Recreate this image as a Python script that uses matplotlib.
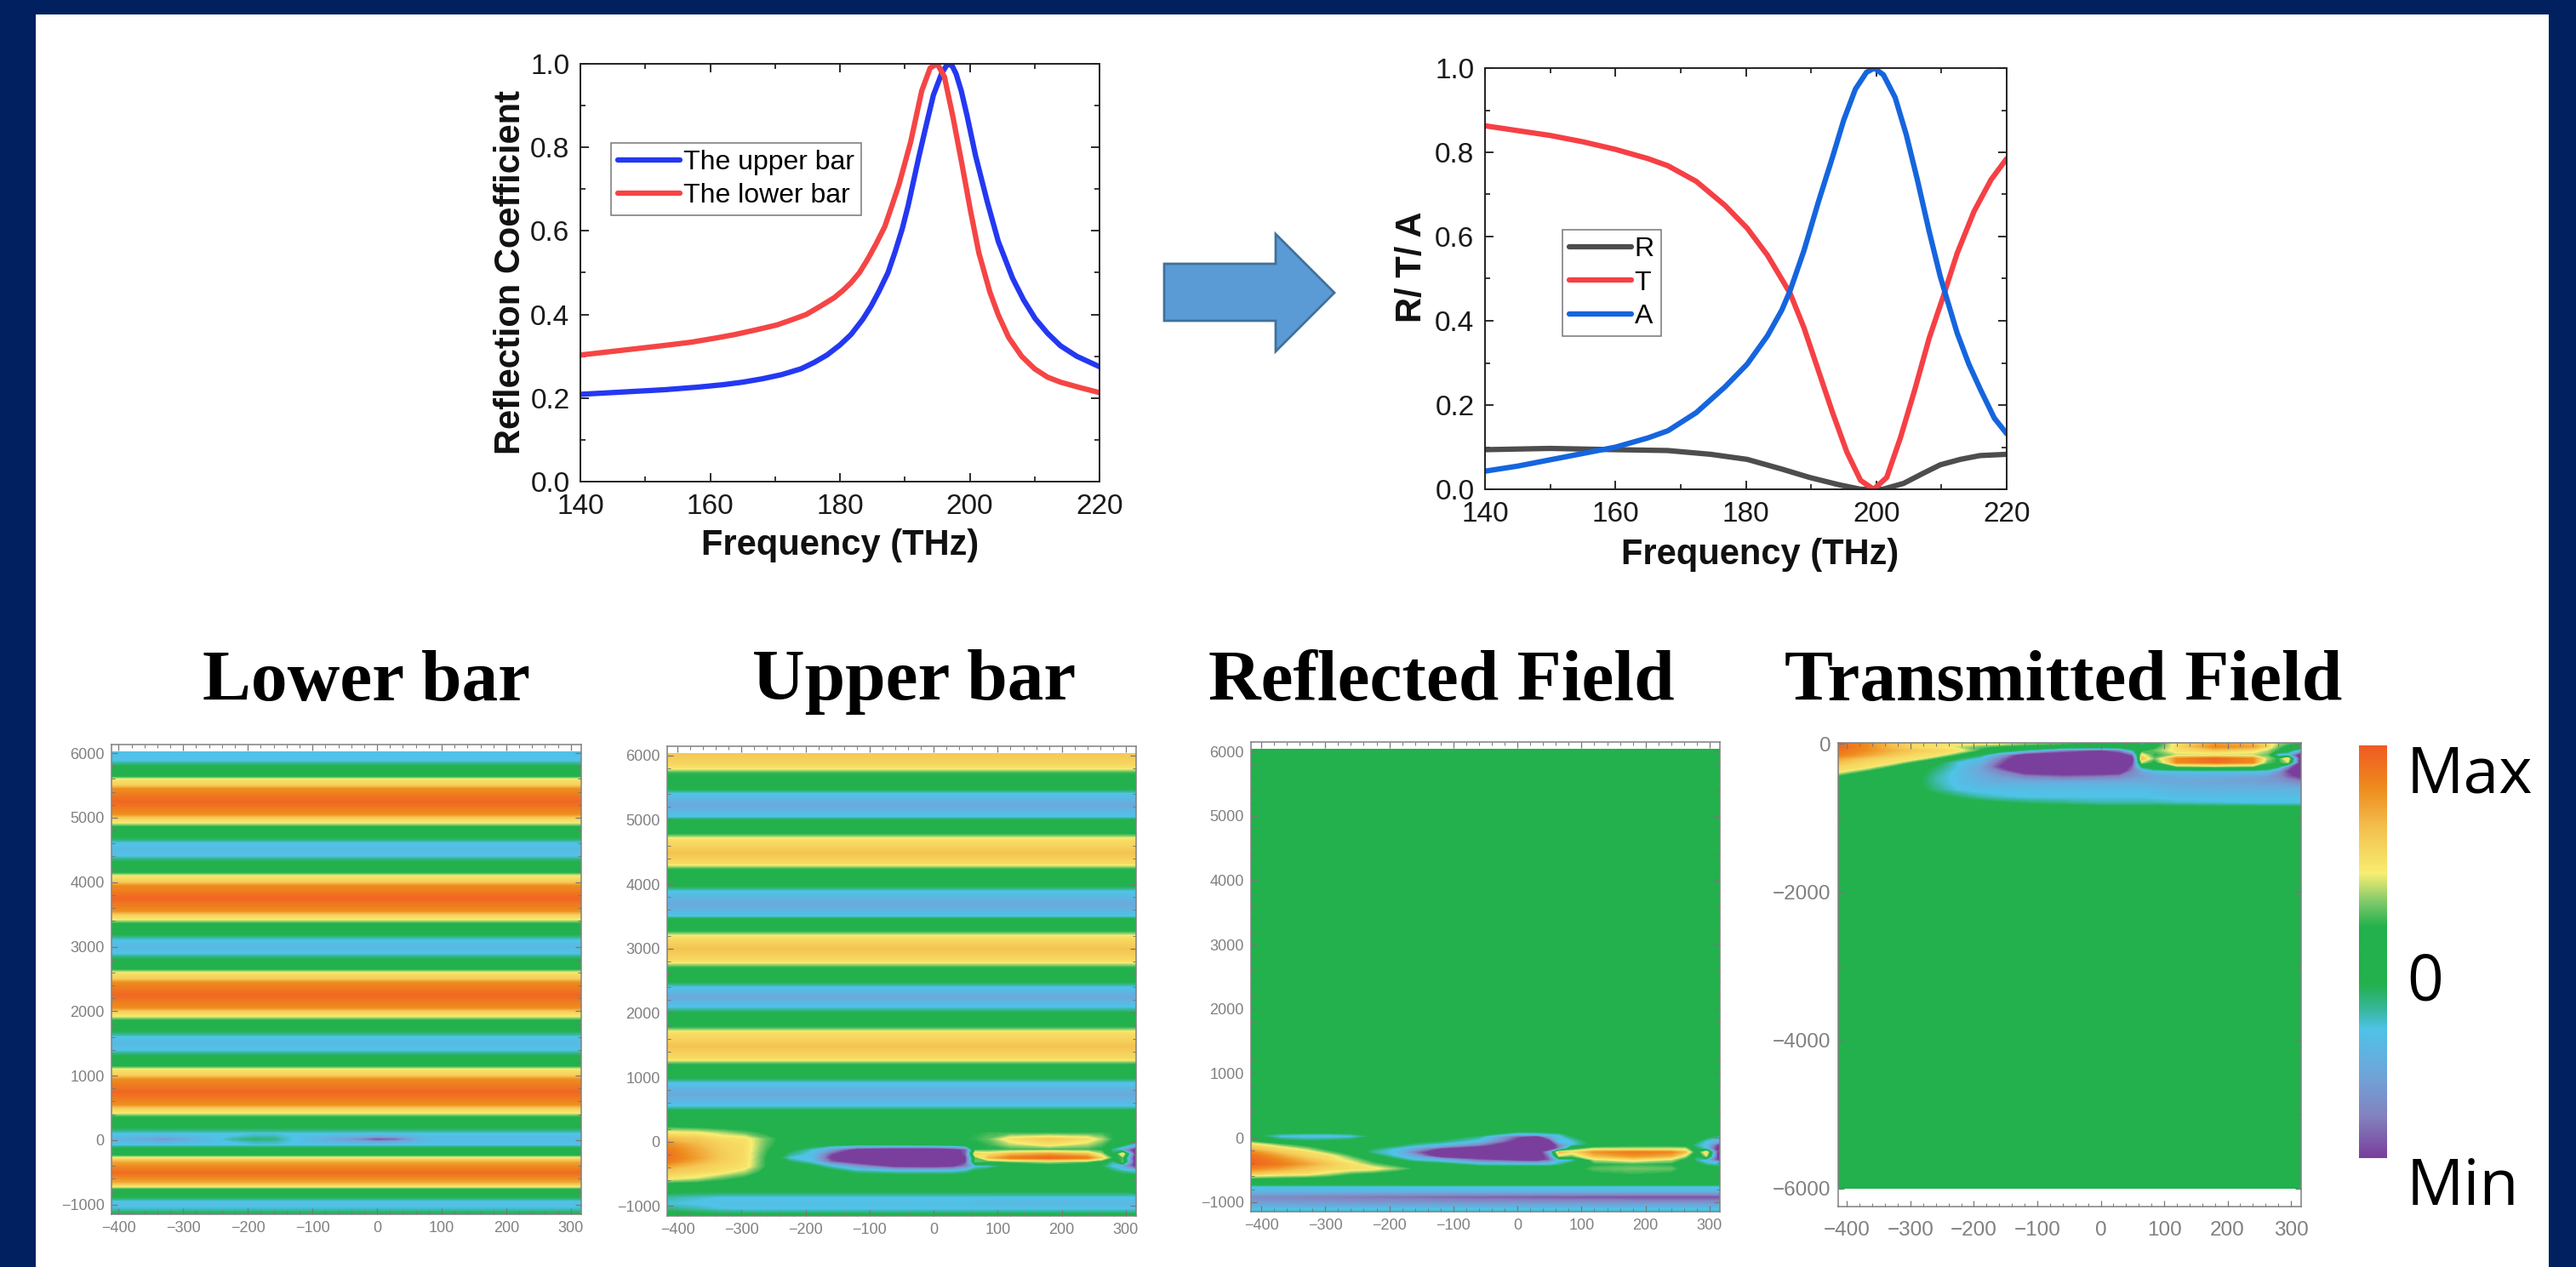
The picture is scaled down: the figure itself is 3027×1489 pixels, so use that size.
#!/usr/bin/env python3
"""Reflection spectra of the two bars, R/T/A, and the four field maps."""

import numpy as np
import matplotlib
matplotlib.use('Agg')
import matplotlib.pyplot as plt
from matplotlib.colors import LinearSegmentedColormap
from matplotlib.patches import Polygon, Rectangle
from matplotlib.ticker import MultipleLocator

W, H = 3027, 1489
NAVY = '#002060'
SANS = 'Liberation Sans'

# --- spectra ---------------------------------------------------------------
UPPER_F = [140, 146, 153, 158, 162, 165, 168, 171, 174, 176, 178, 180, 181.7, 183.5, 184.8, 186, 187.4,
           188.5, 189.6, 190.5, 192.2, 193.4, 194.4, 195.7, 196.6, 197.3, 197.9, 198.7, 199.6, 200.9,
           202.7, 204.4, 206.6, 208.3, 210.1, 212, 214, 216.5, 220]
UPPER_R = [.209, .214, .22, .226, .232, .238, .246, .256, .27, .285, .303, .327, .352, .388, .42, .455, .50,
           .55, .605, .66, .78, .86, .925, .978, 1.0, .995, .976, .935, .875, .78,
           .67, .575, .487, .435, .39, .355, .325, .30, .275]
LOWER_F = [140, 144, 148.5, 153, 157.2, 161, 163.8, 167, 170.3, 172.7, 174.8, 177, 179.1, 180.5, 181.7,
           183, 184.3, 185.6, 186.9, 188, 189.1, 190.9, 192.6, 193.9, 195, 196.1, 197.4, 198.8, 200.1,
           201.4, 203.1, 204.4, 206, 208, 210, 212, 214, 217, 220]
LOWER_R = [.303, .31, .318, .326, .334, .344, .352, .363, .375, .388, .40, .42, .44, .458, .476,
           .50, .533, .57, .61, .66, .711, .813, .935, .99, 1.0, .969, .874, .76, .65,
           .548, .454, .399, .345, .30, .27, .25, .238, .225, .213]

T_F = [140, 150, 155, 160, 165, 168.06, 172.4, 176.8, 180.2, 183.3, 185.5, 186.8, 188.9, 191.1, 193.3,
       195.5, 197.6, 199.6, 201.6, 203.7, 205.9, 208.1, 210.3, 212.4, 215, 217.6, 220]
T_V = [.863, .84, .825, .807, .785, .768, .731, .674, .62, .556, .499, .465, .384, .283, .182,
       .088, .021, 0, .028, .122, .236, .358, .459, .56, .66, .735, .785]
A_F = [140, 145, 150, 155, 160, 165, 168.06, 172.4, 176.8, 180.2, 183.3, 185.5, 186.8, 188.9, 191.1, 193.3,
       195, 196.8, 198.5, 199.7, 201.1, 202.9, 204.6, 206.3, 208.1, 209.8, 210.7, 212.4, 214.2, 216, 218.1, 220]
A_V = [.043, .055, .07, .085, .10, .122, .139, .182, .243, .297, .364, .425, .472, .566, .681, .789,
       .876, .95, .99, 1.0, .984, .93, .842, .735, .613, .506, .459, .371, .297, .236, .169, .132]
R_F = [140, 150, 160, 168, 174.6, 180.2, 185.5, 189.8, 194.2, 197.6, 199.5, 201, 204.2, 207.2, 209.8, 212.9, 215.9, 220]
R_V = [.094, .097, .094, .092, .083, .071, .048, .028, .011, 0, 0, 0, .014, .038, .058, .071, .08, .083]

# --- field maps (-1 = Min, 0 = zero, 1 = Max) ------------------------------
FIELD_X = [-416, -370, -330, -295, -260, -225, -190, -160, -120, -60, 0, 30, 50, 65, 85, 120,
           180, 240, 262, 280, 295, 316]

LOWER_Y = [6016, 5880, 5800, 5720, 5640, 5590, 5510, 5450, 5250, 5050, 4990, 4930, 4860, 4780, 4690,
           4610, 4505, 4400, 4320, 4240, 4150, 4090, 4010, 3950, 3750, 3550, 3490, 3430, 3360, 3280,
           3190, 3110, 3000, 2890, 2810, 2730, 2650, 2590, 2510, 2450, 2250, 2050, 1990, 1930, 1860,
           1780, 1690, 1610, 1500, 1390, 1310, 1230, 1150, 1090, 1010, 950, 750, 550, 490, 430, 360,
           280, 190, 110, 60, 15, -30, -80, -120, -170, -230, -280, -340, -500, -650, -710, -760,
           -820, -880, -940, -1000, -1090, -1148]
LOWER_V = [-.40, -.38, -.16, 0, .12, .44, .52, .78, .95, .78, .52, .42, .12, 0, -.16,
           -.38, -.45, -.38, -.16, 0, .12, .44, .52, .78, .95, .78, .52, .42, .12, 0,
           -.16, -.38, -.45, -.38, -.16, 0, .12, .44, .52, .78, .95, .78, .52, .42, .12,
           0, -.16, -.38, -.45, -.38, -.16, 0, .12, .44, .52, .78, .95, .78, .52, .42, .12,
           0, -.16, -.38, -.42, -.45, -.42, -.38, -.16, 0, .12, .46, .70, .93, .70, .46, .12,
           0, -.16, -.38, -.42, -.30, -.10]
LOWER_SPOT_Y = [60, 15, -30]
LOWER_SPOTS = [
    [-.42, -.45, -.50, -.45, -.42, -.38, -.32, -.32, -.40, -.50, -.60, -.55, -.50, -.45, -.42, -.42, -.42, -.42, -.42, -.42, -.42, -.42],
    [-.50, -.60, -.72, -.62, -.45, -.30, -.22, -.25, -.42, -.65, -1.05, -.95, -.70, -.55, -.45, -.42, -.42, -.42, -.42, -.42, -.42, -.42],
    [-.42, -.45, -.50, -.45, -.42, -.38, -.32, -.32, -.40, -.50, -.60, -.55, -.50, -.45, -.42, -.42, -.42, -.42, -.42, -.42, -.42, -.42],
]

UPPER_Y = [6026, 5894, 5814, 5734, 5601, 5495, 5415, 5229, 5042, 4989, 4883, 4776, 4697, 4484, 4324,
           4244, 4085, 3978, 3899, 3686, 3500, 3447, 3367, 3260, 3180, 2994, 2808, 2718, 2595, 2489,
           2409, 2249, 2090, 1983, 1877, 1771, 1691, 1478, 1292, 1212, 1106, 1000, 920, 733, 547, 467]
UPPER_V = [.56, .50, .44, .14, 0, -.10, -.38, -.58, -.38, -.12, 0, .12, .44, .58, .46,
           .14, 0, -.14, -.38, -.58, -.38, -.10, 0, .14, .44, .58, .46, .14, 0, -.14,
           -.38, -.58, -.38, -.12, 0, .14, .44, .58, .46, .14, 0, -.14, -.38, -.58, -.38, -.10]
UPPER_NEAR_Y = [360, 230, 130, 40, -40, -120, -190, -250, -310, -380, -460, -560, -660, -760, -860, -960, -1050, -1154]
UPPER_NEAR = [
    [0] * 22,
    [.12, .08, .04, .02, 0, 0, 0, 0, 0, 0, 0, 0, 0, 0, 0, 0, 0, 0, 0, 0, 0, 0],
    [.42, .40, .30, .20, .10, .05, .05, .05, .05, .08, .10, .12, .12, .12, .15, .15, .15, .15, .15, .12, .10, .08],
    [.62, .56, .46, .44, .20, .02, 0, 0, 0, .02, .05, .10, .12, .14, .20, .45, .56, .46, .30, .12, .08, .02],
    [.78, .62, .50, .46, .18, 0, -.05, -.10, -.12, -.10, -.08, -.02, .05, .10, .14, .30, .44, .30, .18, .05, -.10, -.40],
    [.85, .68, .52, .46, .15, -.10, -.35, -.65, -1.1, -1.2, -1.2, -1.1, -.90, .10, .12, .14, .14, .14, .10, -.30, -.60, -1.2],
    [.90, .70, .54, .46, .12, -.25, -.42, -.95, -1.2, -1.3, -1.3, -1.25, -.90, .50, .44, .60, .70, .55, .30, -.20, .50, -1.2],
    [.90, .72, .54, .46, .10, -.38, -.42, -1.05, -1.3, -1.3, -1.3, -1.3, -1.0, .15, .60, .85, .95, .85, .50, .10, .15, -1.3],
    [.85, .66, .52, .45, .10, -.20, -.40, -.90, -1.2, -1.3, -1.3, -1.25, -1.0, .20, .12, .20, .30, .20, .05, -.30, .20, -1.25],
    [.70, .56, .48, .44, .10, -.05, -.15, -.38, -.70, -1.1, -1.15, -1.05, -.80, -.42, -.38, -.10, 0, -.05, -.20, -.40, -.60, -1.1],
    [.55, .50, .44, .30, .05, 0, -.02, -.10, -.30, -.38, -.38, -.38, -.30, -.15, -.05, 0, 0, 0, -.05, -.20, -.30, -.40],
    [.44, .35, .20, .10, 0, 0, 0, 0, 0, 0, 0, 0, 0, 0, 0, 0, 0, 0, 0, 0, 0, 0],
    [.05, .03, 0, 0, 0, 0, 0, 0, 0, 0, 0, 0, 0, 0, 0, 0, 0, 0, 0, 0, 0, 0],
    [-.10, -.12, -.12, -.12, -.12, -.12, -.12, -.12, -.12, -.12, -.12, -.12, -.12, -.12, -.12, -.12, -.12, -.12, -.12, -.12, -.12, -.12],
    [-.30, -.34, -.38, -.38, -.38, -.38, -.38, -.38, -.38, -.38, -.38, -.38, -.38, -.38, -.38, -.38, -.38, -.38, -.38, -.38, -.38, -.38],
    [-.36, -.40, -.42, -.42, -.42, -.42, -.42, -.42, -.42, -.42, -.42, -.42, -.42, -.45, -.45, -.48, -.48, -.48, -.48, -.48, -.48, -.48],
    [-.25, -.30, -.36, -.38, -.38, -.38, -.38, -.38, -.38, -.38, -.38, -.38, -.38, -.38, -.38, -.38, -.38, -.38, -.38, -.38, -.38, -.38],
    [-.05, -.08, -.10, -.10, -.10, -.10, -.10, -.10, -.10, -.10, -.10, -.10, -.10, -.10, -.10, -.10, -.10, -.10, -.10, -.10, -.10, -.10],
]

REFLECT_Y = [6037, 300, 150, 100, 50, 20, -50, -110, -170, -225, -285, -345, -410, -480, -560, -640, -700,
             -760, -820, -920, -1040, -1110, -1150]
REFLECT = [
    [0] * 22,
    [0] * 22,
    [0] * 22,
    [0, 0, 0, 0, 0, 0, 0, 0, 0, 0, -.15, -.15, -.10, -.05, 0, 0, 0, 0, 0, 0, 0, 0],
    [-.08, -.30, -.34, -.34, -.28, -.05, 0, 0, -.02, -.12, -.50, -.45, -.38, -.35, -.10, 0, 0, 0, 0, 0, -.02, -.10],
    [-.05, -.40, -.44, -.44, -.40, -.16, 0, 0, -.05, -.25, -.90, -1.1, -.60, -.40, -.20, 0, 0, 0, 0, -.03, -.10, -.30],
    [.10, -.12, -.20, -.18, -.12, -.08, -.05, -.10, -.20, -.42, -1.1, -1.3, -1.1, -.42, -.38, -.05, 0, 0, 0, -.15, -.38, -.60],
    [.46, .20, .05, 0, 0, -.05, -.15, -.30, -.42, -.80, -1.3, -1.3, -1.3, -.80, -.40, -.12, 0, 0, -.05, -.30, -.42, -1.1],
    [.60, .46, .25, .05, 0, -.20, -.38, -.60, -1.0, -1.3, -1.3, -1.3, -1.3, -.80, .05, .30, .30, .30, .30, -.20, -.40, -1.3],
    [.80, .55, .46, .20, .05, -.30, -.42, -.85, -1.3, -1.3, -1.3, -1.3, -.60, .60, .44, .75, .85, .80, .60, -.05, .50, -1.3],
    [.90, .70, .50, .44, .15, -.10, -.38, -.60, -1.2, -1.3, -1.3, -1.3, -.80, .30, .20, .60, .75, .65, .30, -.20, .30, -1.3],
    [.95, .80, .62, .48, .30, .05, -.15, -.38, -.50, -.90, -1.1, -1.15, -.90, -.42, -.38, .30, .44, .30, .05, -.30, -.50, -1.1],
    [.95, .85, .70, .55, .44, .20, .05, -.05, -.15, -.38, -.42, -.42, -.42, -.30, -.10, .10, .14, .10, .02, -.10, -.30, -.40],
    [.80, .70, .58, .50, .46, .42, .25, .10, .02, 0, 0, 0, 0, 0, .05, .18, .22, .20, .05, 0, 0, -.05],
    [.55, .46, .44, .30, .15, .08, .02, .01, 0, 0, 0, 0, 0, 0, .02, .10, .14, .10, .02, 0, 0, 0],
    [.10, .06, .02, 0, 0, 0, 0, 0, 0, 0, 0, 0, 0, 0, 0, 0, 0, 0, 0, 0, 0, 0],
    [0] * 22,
    [-.38] * 22,
    [-.45, -.46, -.46, -.46, -.46, -.46, -.46, -.46, -.46, -.46, -.46, -.46, -.46, -.46, -.46, -.46, -.46, -.46, -.46, -.46, -.46, -.46],
    [-.76, -.78, -.80, -.82, -.84, -.86, -.87, -.88, -.90, -.92, -.93, -.94, -.94, -.95, -.95, -.96, -.97, -.97, -.97, -.97, -.97, -.97],
    [-.60, -.60, -.62, -.62, -.62, -.62, -.62, -.62, -.62, -.62, -.62, -.62, -.62, -.62, -.62, -.62, -.62, -.62, -.62, -.62, -.62, -.62],
    [-.38] * 22,
    [-.34] * 22,
]

TRANS_Y = [13, -40, -90, -150, -200, -250, -310, -370, -440, -520, -620, -720, -800, -880, -6000]
TRANS = [
    [.90, .80, .60, .50, .46, .46, .44, .44, .30, .20, .05, -.10, -.10, -.38, 0, .44, .70, .60, .46, .30, .20, .10],
    [.95, .80, .60, .46, .44, .30, .20, .10, .05, .02, 0, 0, 0, -.10, .05, .46, .80, .70, .50, .20, .05, .10],
    [.90, .78, .65, .55, .48, .44, .10, -.05, -.30, -.80, -1.0, -.80, -.30, .05, .20, .44, .55, .44, .30, .10, -.10, -.60],
    [.85, .70, .56, .47, .44, .10, -.20, -.60, -1.2, -1.3, -1.3, -1.2, -.90, .40, .10, .30, .30, .30, .20, -.50, -.50, -1.3],
    [.70, .55, .46, .44, .12, -.20, -.42, -.80, -1.3, -1.3, -1.3, -1.3, -1.2, .60, .20, .80, .95, .80, .30, .10, .50, -1.3],
    [.60, .47, .44, .10, -.10, -.38, -.50, -.90, -1.3, -1.3, -1.3, -1.3, -1.1, .30, .05, .80, .90, .80, .20, .10, .30, -1.3],
    [.50, .44, .10, -.02, -.20, -.38, -.60, -1.0, -1.3, -1.3, -1.3, -1.3, -.90, -.20, .02, .15, .20, .15, .02, -.20, -.80, -1.3],
    [.44, .12, 0, -.05, -.25, -.42, -.60, -.80, -1.2, -1.3, -1.3, -1.2, -.80, -.60, -.42, -.38, -.38, -.38, -.42, -.70, -1.0, -1.3],
    [.10, 0, 0, -.08, -.30, -.42, -.55, -.65, -.80, -.90, -.85, -.80, -.70, -.65, -.60, -.55, -.55, -.60, -.65, -.75, -.90, -1.1],
    [0, 0, 0, -.10, -.30, -.42, -.50, -.55, -.55, -.55, -.55, -.55, -.55, -.55, -.55, -.58, -.60, -.62, -.65, -.65, -.70, -.75],
    [0, 0, 0, -.08, -.25, -.38, -.42, -.42, -.42, -.42, -.42, -.42, -.42, -.42, -.45, -.48, -.50, -.50, -.50, -.50, -.50, -.50],
    [0, 0, 0, 0, -.10, -.20, -.30, -.35, -.38, -.38, -.38, -.38, -.38, -.38, -.40, -.42, -.42, -.42, -.42, -.42, -.42, -.42],
    [0, 0, 0, 0, 0, -.05, -.10, -.15, -.20, -.25, -.30, -.30, -.30, -.30, -.30, -.33, -.35, -.38, -.38, -.38, -.38, -.38],
    [0, 0, 0, 0, 0, 0, 0, 0, 0, -.02, -.03, -.03, -.03, -.03, -.03, -.04, -.05, -.05, -.05, -.05, -.05, -.05],
    [0] * 22,
]

CBAR_POS = [0, .10, .20, .31, .36, .42, .56, .62, .69, .80, .90, 1]
CBAR_COL = ['#7A3F9D', '#8383BF', '#6FA5D9', '#4FC3E8', '#38B79A', '#22B14C', '#22B14C', '#7FC96A',
            '#F8EE72', '#F4C04E', '#EE8A1D', '#F15A24']
FIELD = LinearSegmentedColormap.from_list('field', list(zip(CBAR_POS, CBAR_COL)), N=512)


def axbox(fig, l, t, r, b):
    return fig.add_axes([l / W, 1 - b / H, (r - l) / W, (b - t) / H])


def ftext(fig, x, y, s, **kw):
    return fig.text(x / W, 1 - y / H, s, **kw)


def style_spectrum(ax, ylabel, xlab_x, xlab_y, ylab_x, ylab_y):
    fig = ax.figure
    ax.set_xlim(140, 220)
    ax.set_ylim(0, 1)
    ax.xaxis.set_major_locator(MultipleLocator(20))
    ax.xaxis.set_minor_locator(MultipleLocator(10))
    ax.yaxis.set_major_locator(MultipleLocator(0.2))
    ax.yaxis.set_minor_locator(MultipleLocator(0.1))
    ax.tick_params(which='major', direction='in', length=7, width=1.3, top=True, right=True,
                   labelsize=24, pad=9, colors='#1a1a1a')
    ax.tick_params(which='minor', direction='in', length=4, width=1.1, top=True, right=True)
    ax.tick_params(axis='x', which='major', pad=10)
    for lab in ax.get_xticklabels() + ax.get_yticklabels():
        lab.set_fontfamily(SANS)
    for sp in ax.spines.values():
        sp.set_linewidth(1.4)
        sp.set_color('#222222')
    ftext(fig, xlab_x, xlab_y, 'Frequency (THz)', family=SANS, weight='bold', fontsize=30,
          ha='center', va='center', color='#111111')
    ftext(fig, ylab_x, ylab_y, ylabel, family=SANS, weight='bold', fontsize=30, rotation=90,
          ha='center', va='center', color='#111111')


def field_map(fig, box, y, z, xlim, ylim, ymajor, yminor, labelsize, xpad=6):
    ax = axbox(fig, *box)
    # contourf interpolates in value space, so purple -> orange passes through the whole scale
    ax.contourf(FIELD_X, y, np.array(z, dtype=float), levels=np.linspace(-1, 1, 161),
                cmap=FIELD, extend='both', antialiased=False)
    ax.set_xlim(*xlim)
    ax.set_ylim(*ylim)
    ax.xaxis.set_major_locator(MultipleLocator(100))
    ax.xaxis.set_minor_locator(MultipleLocator(20))
    ax.yaxis.set_major_locator(MultipleLocator(ymajor))
    ax.yaxis.set_minor_locator(MultipleLocator(yminor))
    ax.tick_params(which='major', direction='in', length=5, width=0.9, color='#777777', top=True, right=True,
                   labelsize=labelsize, labelcolor='#808080', pad=6)
    ax.tick_params(axis='x', which='major', pad=xpad)
    ax.tick_params(which='minor', direction='in', length=3, width=0.7, color='#777777', top=True, right=True)
    for lab in ax.get_xticklabels() + ax.get_yticklabels():
        lab.set_fontfamily(SANS)
    for sp in ax.spines.values():
        sp.set_linewidth(1.1)
        sp.set_color('#808080')
    return ax


def main():
    fig = plt.figure(figsize=(W / 100, H / 100), dpi=100, facecolor=NAVY)
    fig.add_artist(Rectangle((42 / W, 0), (2995 - 42) / W, 1 - 17 / H, transform=fig.transFigure,
                             facecolor='white', edgecolor='none', zorder=-5))

    # top left spectrum
    ax = axbox(fig, 682, 75, 1292, 566)
    ax.plot(UPPER_F, UPPER_R, color='#2438F2', lw=4.5, label='The upper bar', solid_capstyle='round')
    ax.plot(LOWER_F, LOWER_R, color='#F54545', lw=4.5, label='The lower bar', solid_capstyle='round')
    style_spectrum(ax, 'Reflection Coefficient', 987, 641, 600, 320)
    leg = ax.legend(loc='upper left', bbox_to_anchor=((718 - 682) / 610, 1 - (168 - 75) / 491), borderaxespad=0,
                    prop={'family': SANS, 'size': 23}, fancybox=False, framealpha=1, edgecolor='#777777',
                    handlelength=2.3, handletextpad=0.1, labelspacing=0.28, borderpad=0.25)
    leg.get_frame().set_linewidth(1.1)

    # top right spectrum
    ax = axbox(fig, 1745, 80, 2358, 575)
    ax.plot(R_F, R_V, color='#4D4D4D', lw=4.5, label='R', solid_capstyle='round')
    ax.plot(T_F, T_V, color='#F54045', lw=4.5, label='T', solid_capstyle='round')
    ax.plot(A_F, A_V, color='#1565DE', lw=4.5, label='A', solid_capstyle='round')
    style_spectrum(ax, 'R/ T/ A', 2068, 652, 1659, 314)
    leg = ax.legend(loc='upper left', bbox_to_anchor=((1836 - 1745) / 613, 1 - (270 - 80) / 495), borderaxespad=0,
                    prop={'family': SANS, 'size': 23}, fancybox=False, framealpha=1, edgecolor='#777777',
                    handlelength=2.3, handletextpad=0.1, labelspacing=0.3, borderpad=0.25)
    leg.get_frame().set_linewidth(1.1)

    # arrow between the spectra
    arrow_px = [(1368, 310), (1499, 310), (1499, 275), (1568, 344), (1499, 413), (1499, 377), (1368, 377)]
    fig.add_artist(Polygon([(x / W, 1 - y / H) for x, y in arrow_px], closed=True, transform=fig.transFigure,
                           facecolor='#5B9BD5', edgecolor='#41719C', linewidth=2.0))

    # field maps
    lower_z = [list(np.full(22, v)) for v in LOWER_V]
    for yy, row in zip(LOWER_SPOT_Y, LOWER_SPOTS):
        lower_z[LOWER_Y.index(yy)] = row
    field_map(fig, (131, 875, 683, 1427), LOWER_Y, lower_z, (-411, 316), (-1148, 6133), 1000, 200, 13)

    upper_z = [list(np.full(22, v)) for v in UPPER_V] + UPPER_NEAR
    field_map(fig, (784, 877, 1335, 1429), UPPER_Y + UPPER_NEAR_Y, upper_z, (-416, 316), (-1154, 6143), 1000, 200, 13)

    field_map(fig, (1470, 872, 2021, 1424), REFLECT_Y, REFLECT, (-416, 316), (-1150, 6148), 1000, 200, 13)

    field_map(fig, (2160, 873, 2704, 1418), TRANS_Y, TRANS, (-414, 316), (-6244, 13), 2000, 1000, 17.5, xpad=12)

    # titles above the maps
    titles = ['Lower bar', 'Upper bar', 'Reflected Field', 'Transmitted Field']
    title_x = [430, 1074, 1694, 2425]
    for tx, s in zip(title_x, titles):
        ftext(fig, tx, 802, s, family='Liberation Serif', weight='bold', fontsize=61.5,
              ha='center', va='center', color='black')

    # colour scale
    cax = axbox(fig, 2772, 876, 2805, 1361)
    cax.imshow(np.linspace(1, -1, 256)[:, None], cmap=FIELD, vmin=-1, vmax=1, aspect='auto')
    cax.axis('off')
    for yy, s in zip([912, 1156, 1396], ['Max', '0', 'Min']):
        ftext(fig, 2828, yy, s, family='Open Sans', fontsize=54, ha='left', va='center', color='black')

    fig.savefig('out.png', dpi=100, facecolor=fig.get_facecolor())
    plt.close(fig)


if __name__ == '__main__':
    main()
